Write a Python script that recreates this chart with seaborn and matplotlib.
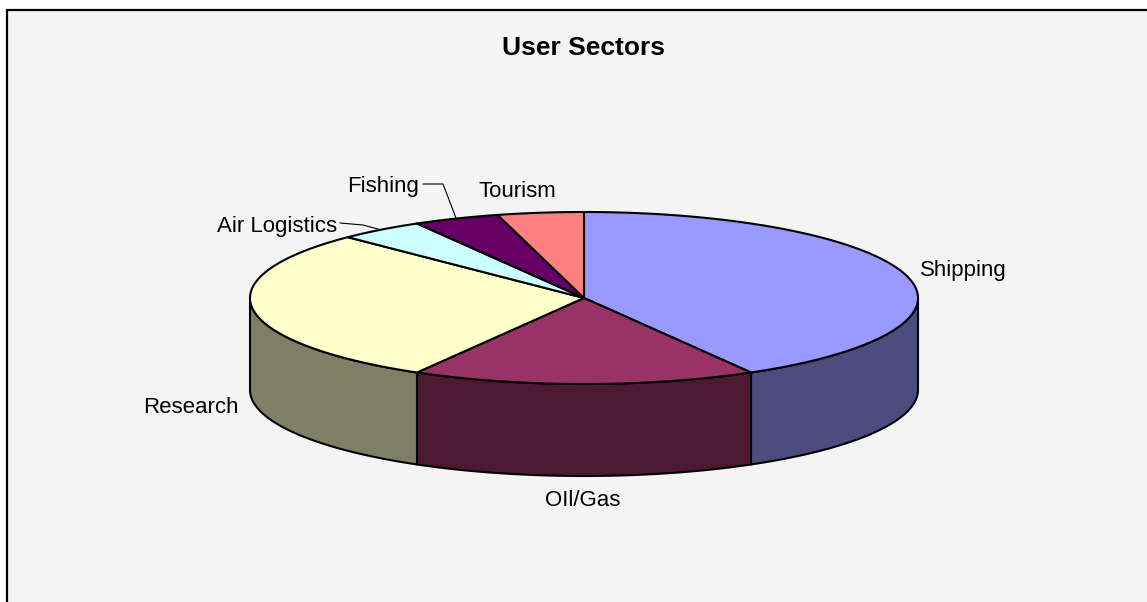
import numpy as np
import matplotlib
matplotlib.use("Agg")
import matplotlib.pyplot as plt
import seaborn as sns
from matplotlib.patches import Polygon, Rectangle
from matplotlib.lines import Line2D

# ---- data ----
sectors = ["Shipping", "OIl/Gas", "Research", "Air Logistics", "Fishing", "Tourism"]
values = [10, 4, 7, 1, 1, 1]
top_colors = ["#9999FF", "#993366", "#FFFFCC", "#CCFFFF", "#660066", "#FF8080"]
side_colors = ["#4C4C7F", "#4C1933", "#7F7F66", "#667F7F", "#330033", "#7F4040"]
title = "User Sectors"

sns.set_theme(style="white")
plt.rcParams["font.family"] = ["Liberation Sans", "DejaVu Sans"]
plt.rcParams["text.color"] = "black"

W, H = 1147, 602
fig = plt.figure(figsize=(W / 100, H / 100), dpi=100)
fig.patch.set_facecolor("white")
ax = fig.add_axes([0, 0, 1, 1])
ax.set_xlim(0, W)
ax.set_ylim(H, 0)
ax.axis("off")

# chart area background and frame
ax.add_patch(Rectangle((7, 10), W, H, facecolor="#F4F4F4", edgecolor="none", zorder=0))
ax.add_line(Line2D([7, W], [10, 10], color="black", lw=1.6, zorder=1))
ax.add_line(Line2D([7, 7], [10, H], color="black", lw=1.6, zorder=1))

# geometry of the 3D pie
cx, cy, rx, ry, depth = 584, 298, 334, 86, 92


def pt(theta_deg, dz=0.0):
    t = np.radians(theta_deg)
    return cx + rx * np.sin(t), cy - ry * np.cos(t) + dz


vals = np.array(values, dtype=float)
angles = np.concatenate([[0], np.cumsum(vals) / vals.sum() * 360])

lw = 1.5
# side faces (front half only: 90..270 degrees clockwise from top)
for i in range(len(vals)):
    a = max(angles[i], 90)
    b = min(angles[i + 1], 270)
    if a < b:
        th = np.linspace(a, b, 120)
        xs, ys = pt(th)
        xb, yb = pt(th[::-1], depth)
        poly = np.column_stack([np.concatenate([xs, xb]), np.concatenate([ys, yb])])
        ax.add_patch(Polygon(poly, closed=True, facecolor=side_colors[i],
                             edgecolor="black", lw=lw, joinstyle="round", zorder=2))

# top faces
for i in range(len(vals)):
    th = np.linspace(angles[i], angles[i + 1], 200)
    xs, ys = pt(th)
    poly = np.column_stack([np.concatenate([[cx], xs]), np.concatenate([[cy], ys])])
    ax.add_patch(Polygon(poly, closed=True, facecolor=top_colors[i],
                         edgecolor="black", lw=lw, joinstyle="round", zorder=3))

# title
ax.text(584, 55, title, fontsize=19, fontweight="bold", ha="center", va="baseline",
        color="black", zorder=5)

# labels
fs = 16
kw = dict(fontsize=fs, va="baseline", color="black", zorder=5)
ax.text(920, 276, sectors[0], ha="left", **kw)
ax.text(583, 506, sectors[1], ha="center", **kw)
ax.text(239, 413, sectors[2], ha="right", **kw)
ax.text(337, 232, sectors[3], ha="right", **kw)
ax.text(419, 192, sectors[4], ha="right", **kw)
ax.text(517, 197, sectors[5], ha="center", **kw)

# leader lines
mid_air = (angles[3] + angles[4]) / 2
mid_fish = (angles[4] + angles[5]) / 2
ax_x, ax_y = pt(mid_air)
fx, fy = pt(mid_fish)
ax.add_line(Line2D([340, 363, ax_x], [223, 225, ax_y], color="black", lw=0.8, zorder=4))
ax.add_line(Line2D([423, 443, fx], [184, 184, fy], color="black", lw=0.8, zorder=4))

fig.savefig("out.png", dpi=100, facecolor=fig.get_facecolor())
